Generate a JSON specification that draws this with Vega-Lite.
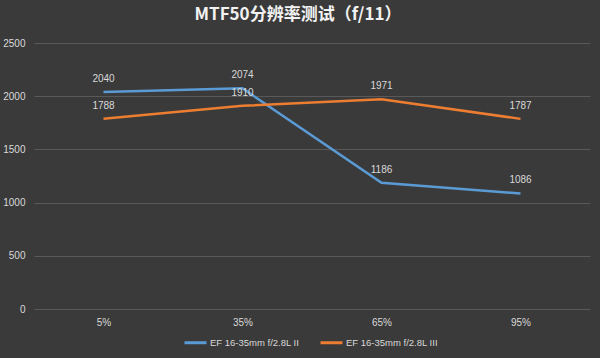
{
  "$schema": "https://vega.github.io/schema/vega-lite/v6.json",
  "width": 556,
  "height": 266,
  "autosize": {"type": "none"},
  "padding": {"left": 34, "top": 43, "right": 10, "bottom": 49},
  "background": "#3a3a3a",
  "config": {"view": {"stroke": null}},
  "title": {
    "text": "MTF50分辨率测试（f/11）",
    "font": "Noto Sans CJK SC",
    "fontSize": 17,
    "fontWeight": "bold",
    "color": "#f2f2f2",
    "anchor": "middle",
    "offset": 14,
    "dx": -14
  },
  "data": {
    "values": [
      {"x": "5%", "series": "EF 16-35mm f/2.8L II", "v": 2040},
      {"x": "35%", "series": "EF 16-35mm f/2.8L II", "v": 2074},
      {"x": "65%", "series": "EF 16-35mm f/2.8L II", "v": 1186},
      {"x": "95%", "series": "EF 16-35mm f/2.8L II", "v": 1086},
      {"x": "5%", "series": "EF 16-35mm f/2.8L III", "v": 1788},
      {"x": "35%", "series": "EF 16-35mm f/2.8L III", "v": 1910},
      {"x": "65%", "series": "EF 16-35mm f/2.8L III", "v": 1971},
      {"x": "95%", "series": "EF 16-35mm f/2.8L III", "v": 1787}
    ]
  },
  "encoding": {
    "x": {
      "field": "x", "type": "ordinal", "sort": ["5%", "35%", "65%", "95%"],
      "scale": {"paddingInner": 0, "paddingOuter": 0},
      "axis": {"title": null, "labelAngle": 0, "ticks": false, "domain": false, "labelColor": "#d9d9d9", "labelFontSize": 10, "labelFont": "Liberation Sans", "labelPadding": 8}
    },
    "y": {
      "field": "v", "type": "quantitative",
      "scale": {"domain": [0, 2500]},
      "axis": {"title": null, "values": [0, 500, 1000, 1500, 2000, 2500], "format": "d", "ticks": false, "domain": false, "labelColor": "#d9d9d9", "labelFontSize": 10, "labelFont": "Liberation Sans", "gridColor": "#595959", "gridWidth": 1, "labelPadding": 9}
    },
    "color": {
      "field": "series", "type": "nominal",
      "scale": {"range": ["#5b9bd5", "#ed7d31"]},
      "legend": {
        "title": null, "orient": "none", "direction": "horizontal",
        "legendX": 149, "legendY": 287,
        "symbolType": "stroke", "symbolStrokeWidth": 3, "symbolSize": 484,
        "labelColor": "#d9d9d9", "labelFontSize": 9.5, "labelFont": "Liberation Sans",
        "columnPadding": 14, "labelOffset": 2
      }
    }
  },
  "layer": [
    {"mark": {"type": "line", "strokeWidth": 2.5}},
    {"mark": {"type": "text", "dy": -13, "fontSize": 10, "font": "Liberation Sans", "color": "#d9d9d9"}, "encoding": {"text": {"field": "v"}, "color": {"value": "#d9d9d9"}}}
  ]
}
